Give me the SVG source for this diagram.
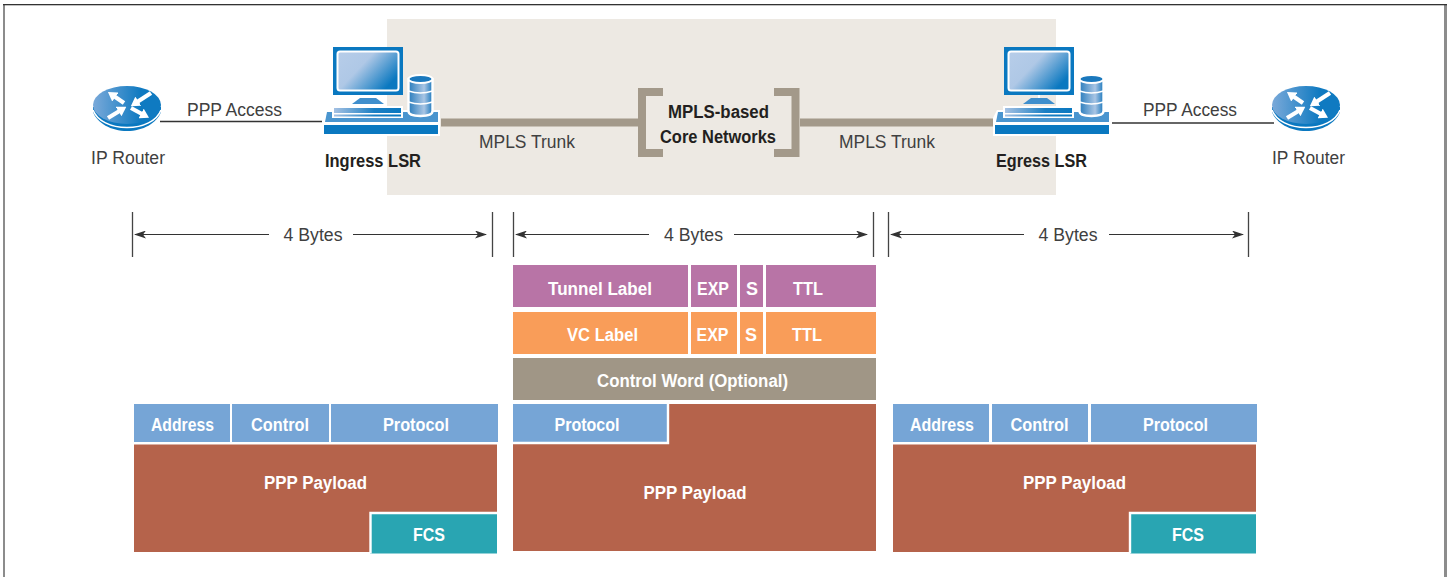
<svg xmlns="http://www.w3.org/2000/svg" width="1447" height="577" viewBox="0 0 1447 577">
<style>
text{font-family:"Liberation Sans",Arial,sans-serif;text-anchor:middle}
.l{font-size:18px;fill:#404040}
.b{font-size:18px;font-weight:bold;fill:#231f20}
.w{font-size:18px;font-weight:bold;fill:#fff}
.dim{stroke:#333;stroke-width:1.2;fill:none}
.tick{stroke:#444;stroke-width:1.3}
.trunk{stroke:#a3998a;stroke-width:8;fill:none}
.arr{stroke:#fff;stroke-width:4.200;fill:none}
.gap{fill:none;stroke:#fff;stroke-width:2.4}
.blue{fill:#76a5d6}.brick{fill:#b5634b}.teal{fill:#29a5b2}.pur{fill:#b874a6}.or{fill:#f99d59}.tan{fill:#a09686}
</style>
<defs>
<marker id="ah" viewBox="0 0 12 8" refX="11" refY="4" markerWidth="12" markerHeight="8" markerUnits="userSpaceOnUse" orient="auto-start-reverse"><path d="M0 0L12 4L0 8L3 4Z" fill="#333"/></marker>
<marker id="wh" viewBox="0 0 9 11" refX="1" refY="5.500" markerWidth="9" markerHeight="11" markerUnits="userSpaceOnUse" orient="auto"><path d="M0 0L9 5.500L0 11Z" fill="#fff"/></marker>
<linearGradient id="gs" x1="0" y1="0" x2="1" y2="0.6"><stop offset="0" stop-color="#b7cde9"/><stop offset="0.45" stop-color="#afc8e6"/><stop offset="1" stop-color="#0a78c0"/></linearGradient>
<linearGradient id="gk" x1="0" y1="0" x2="1" y2="0"><stop offset="0" stop-color="#a5c1e3"/><stop offset="0.6" stop-color="#1a7fc4"/><stop offset="1" stop-color="#0a78c0"/></linearGradient>
<linearGradient id="gc" x1="0" y1="0" x2="1" y2="0"><stop offset="0" stop-color="#2a7dbd"/><stop offset="0.65" stop-color="#a9c5e4"/><stop offset="1" stop-color="#1a78bd"/></linearGradient>
<linearGradient id="gr" x1="0" y1="0" x2="1" y2="0"><stop offset="0" stop-color="#7aa9d9"/><stop offset="0.7" stop-color="#0f7ac1"/></linearGradient>
<g id="lsr">
<path d="M3 62H117V88H-1V70Z" fill="#fff"/>
<path d="M4 64H115V74H2Z" fill="#4a95cf"/>
<rect x="1" y="77" width="114" height="9" fill="#0a78c0"/>
<rect x="10" y="-1" width="70" height="48" fill="#0a78c0"/>
<rect x="14.500" y="3.500" width="61" height="39" rx="2.500" fill="url(#gs)" stroke="#fff" stroke-width="2"/>
<rect x="44" y="47" width="2" height="3" fill="#fff"/>
<path d="M37 50H53L61 56H29Z" fill="#3f8fcd"/>
<path d="M9 58H80V70H9Z" fill="#fff"/>
<rect x="11" y="60" width="67" height="5" fill="url(#gk)"/>
<rect x="11" y="66.500" width="67" height="2" fill="url(#gk)"/>
<path d="M85.500 31V63Q85.500 68 97.500 68Q109.500 68 109.500 63V31Z" fill="url(#gc)" stroke="#fff" stroke-width="2.400"/>
<ellipse cx="97.500" cy="31" rx="12" ry="4" fill="#1a78bd" stroke="#fff" stroke-width="2"/>
<path d="M85.500 43Q97.500 47 109.500 43M85.500 54Q97.500 58 109.500 54" fill="none" stroke="#fff" stroke-width="1.500"/>
</g>
<g id="rtr">
<path d="M0 21V26C4 37 18 45 34 45C50 45 64 37 68 26V21Z" fill="#0a78c0"/>
<path d="M0 24C4 35 18 41.500 34 41.500C50 41.500 64 35 68 24" fill="none" stroke="#fff" stroke-width="1.600"/>
<ellipse cx="34" cy="19" rx="34" ry="19" fill="url(#gr)"/>
<path class="arr" marker-end="url(#wh)" d="M31 17L21.500 10.500"/>
<path class="arr" marker-end="url(#wh)" d="M58 7L44.500 15.800"/>
<path class="arr" marker-end="url(#wh)" d="M15 32L26.500 25"/>
<path class="arr" marker-end="url(#wh)" d="M38 22L49 28"/>
</g>
</defs>
<rect x="0" y="0" width="1447" height="577" fill="#fff"/>
<rect x="3" y="4" width="2" height="573" fill="#8c8c8c"/>
<rect x="1444" y="4" width="3" height="573" fill="#8c8c8c"/>
<rect x="3" y="4" width="1444" height="1.300" fill="#333"/>
<rect x="387" y="19" width="669" height="176" fill="#ede9e3"/>
<g id="connectors">
<path d="M160 121.500H322" stroke="#333" stroke-width="1.500" fill="none"/>
<path d="M1112 123H1274" stroke="#666" stroke-width="2" fill="none"/>
<path class="trunk" d="M441 122.500H638"/>
<path class="trunk" d="M800 122.500H995"/>
<path class="trunk" d="M663 92H642V153H663"/>
<path class="trunk" d="M774 92H795.500V153H774"/>
<path class="tick" d="M132.500 212V257M492.500 212V257M513.500 212V257M873.500 212V257M888.500 212V257M1248.500 212V257"/>
<path class="dim" marker-start="url(#ah)" d="M135 234.500H269"/>
<path class="dim" marker-end="url(#ah)" d="M353 234.500H486"/>
<path class="dim" marker-start="url(#ah)" d="M516 234.500H649"/>
<path class="dim" marker-end="url(#ah)" d="M734 234.500H867"/>
<path class="dim" marker-start="url(#ah)" d="M891 234.500H1024"/>
<path class="dim" marker-end="url(#ah)" d="M1109 234.500H1243"/>
</g>
<g id="ingress-router"><use href="#rtr" x="93" y="86"/><text class="l" x="128" y="163.500" textLength="74" lengthAdjust="spacingAndGlyphs">IP Router</text></g>
<g id="egress-router"><use href="#rtr" x="1272" y="86"/><text class="l" x="1308.500" y="163.500" textLength="73" lengthAdjust="spacingAndGlyphs">IP Router</text></g>
<g id="ingress-lsr"><use href="#lsr" x="323" y="48"/><text class="b" x="373" y="167" textLength="96" lengthAdjust="spacingAndGlyphs">Ingress LSR</text></g>
<g id="egress-lsr"><use href="#lsr" x="994" y="48"/><text class="b" x="1041.500" y="167" textLength="91" lengthAdjust="spacingAndGlyphs">Egress LSR</text></g>
<g id="core"><text class="b" x="718.500" y="118" textLength="101" lengthAdjust="spacingAndGlyphs">MPLS-based</text><text class="b" x="718" y="143" textLength="116" lengthAdjust="spacingAndGlyphs">Core Networks</text></g>
<text class="l" x="234.500" y="116" textLength="95" lengthAdjust="spacingAndGlyphs">PPP Access</text>
<text class="l" x="1190" y="116" textLength="94" lengthAdjust="spacingAndGlyphs">PPP Access</text>
<text class="l" x="527" y="147.500" textLength="96" lengthAdjust="spacingAndGlyphs">MPLS Trunk</text>
<text class="l" x="887" y="147.500" textLength="96" lengthAdjust="spacingAndGlyphs">MPLS Trunk</text>
<text class="l" x="313" y="241" textLength="59" lengthAdjust="spacingAndGlyphs">4 Bytes</text>
<text class="l" x="693.500" y="241" textLength="59" lengthAdjust="spacingAndGlyphs">4 Bytes</text>
<text class="l" x="1068" y="241" textLength="59" lengthAdjust="spacingAndGlyphs">4 Bytes</text>
<g id="tunnel-row">
<rect class="pur" x="513" y="265" width="175" height="42"/><rect class="pur" x="691" y="265" width="46" height="42"/><rect class="pur" x="740" y="265" width="23" height="42"/><rect class="pur" x="766" y="265" width="110" height="42"/>
<text class="w" x="600" y="294.500" textLength="104" lengthAdjust="spacingAndGlyphs">Tunnel Label</text><text class="w" x="713" y="295" textLength="32" lengthAdjust="spacingAndGlyphs">EXP</text><text class="w" x="752" y="295">S</text><text class="w" x="808" y="295" textLength="30" lengthAdjust="spacingAndGlyphs">TTL</text>
</g>
<g id="vc-row">
<rect class="or" x="513" y="312" width="175" height="42"/><rect class="or" x="691" y="312" width="46" height="42"/><rect class="or" x="740" y="312" width="23" height="42"/><rect class="or" x="766" y="312" width="110" height="42"/>
<text class="w" x="602.500" y="340.500" textLength="71" lengthAdjust="spacingAndGlyphs">VC Label</text><text class="w" x="712.500" y="340.500" textLength="32" lengthAdjust="spacingAndGlyphs">EXP</text><text class="w" x="751" y="340.500">S</text><text class="w" x="807" y="340.500" textLength="30" lengthAdjust="spacingAndGlyphs">TTL</text>
</g>
<g id="control-word"><rect class="tan" x="513" y="358" width="363" height="42"/><text class="w" x="692.500" y="386.500" textLength="191" lengthAdjust="spacingAndGlyphs">Control Word (Optional)</text></g>
<g id="left-frame">
<rect class="blue" x="134" y="404" width="96" height="38"/><rect class="blue" x="232" y="404" width="97" height="38"/><rect class="blue" x="331" y="404" width="167" height="38"/>
<text class="w" x="182.500" y="430.500" textLength="63" lengthAdjust="spacingAndGlyphs">Address</text><text class="w" x="280" y="430.500" textLength="58" lengthAdjust="spacingAndGlyphs">Control</text><text class="w" x="416" y="430.500" textLength="66" lengthAdjust="spacingAndGlyphs">Protocol</text>
<rect class="brick" x="134" y="444.500" width="363" height="107.500"/><text class="w" x="315.500" y="488.500" textLength="103" lengthAdjust="spacingAndGlyphs">PPP Payload</text>
<rect class="teal" x="370" y="513" width="127" height="40.500"/><path class="gap" d="M370.500 553.500V513H497"/><text class="w" x="429" y="540.500" textLength="32" lengthAdjust="spacingAndGlyphs">FCS</text>
</g>
<g id="middle-frame">
<rect class="brick" x="513" y="404" width="363" height="147"/>
<rect class="blue" x="513" y="404" width="154" height="38"/><path class="gap" d="M513 443H668V404"/>
<text class="w" x="587" y="430.500" textLength="65" lengthAdjust="spacingAndGlyphs">Protocol</text><text class="w" x="695" y="498.500" textLength="103" lengthAdjust="spacingAndGlyphs">PPP Payload</text>
</g>
<g id="right-frame">
<rect class="blue" x="893" y="404" width="96" height="38"/><rect class="blue" x="992" y="404" width="96" height="38"/><rect class="blue" x="1091" y="404" width="166" height="38"/>
<text class="w" x="942" y="430.500" textLength="64" lengthAdjust="spacingAndGlyphs">Address</text><text class="w" x="1039.500" y="430.500" textLength="58" lengthAdjust="spacingAndGlyphs">Control</text><text class="w" x="1175.500" y="430.500" textLength="65" lengthAdjust="spacingAndGlyphs">Protocol</text>
<rect class="brick" x="893" y="444.500" width="363" height="107.500"/><text class="w" x="1074.500" y="488.500" textLength="103" lengthAdjust="spacingAndGlyphs">PPP Payload</text>
<rect class="teal" x="1130" y="513" width="126" height="40.500"/><path class="gap" d="M1130 553.500V513H1256"/><text class="w" x="1188" y="540.500" textLength="32" lengthAdjust="spacingAndGlyphs">FCS</text>
</g>
</svg>
